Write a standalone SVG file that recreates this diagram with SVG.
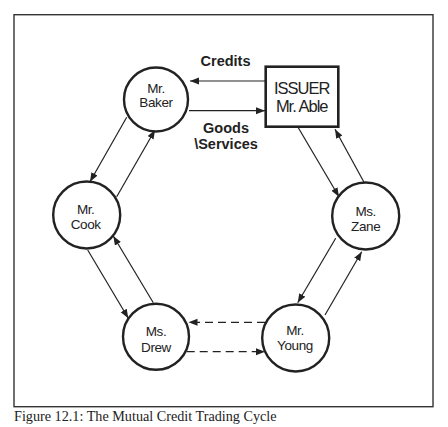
<svg xmlns="http://www.w3.org/2000/svg" width="448" height="427" viewBox="0 0 448 427">
<style>
.node{fill:#fff;stroke:#222;stroke-width:2.4}
.lbl{font-family:"Liberation Sans",Arial,sans-serif;font-size:13.5px;letter-spacing:-0.4px;fill:#222;text-anchor:middle}
.iss{font-family:"Liberation Sans",Arial,sans-serif;font-size:16.5px;letter-spacing:-1px;fill:#222;text-anchor:middle}
.edge{stroke:#222;stroke-width:1.2;fill:none;marker-end:url(#ah)}
.dash{stroke-dasharray:8 5}
.elbl{font-family:"Liberation Sans",Arial,sans-serif;font-size:14.5px;font-weight:bold;fill:#222;text-anchor:middle}
.cap{font-family:"Liberation Serif","Times New Roman",serif;font-size:14.2px;fill:#222}
</style>
<defs>
<marker id="ah" markerUnits="userSpaceOnUse" markerWidth="10" markerHeight="8" refX="9" refY="3.5" orient="auto">
<path d="M0,0 L9,3.5 L0,7 z" fill="#222"/>
</marker>
</defs>
<rect width="448" height="427" fill="#fff"/>
<rect x="14" y="14.7" width="419" height="392" fill="none" stroke="#333" stroke-width="1.4"/>
<text class="cap" x="14" y="420.5">Figure 12.1: The Mutual Credit Trading Cycle</text>

<g id="connectors">
<line class="edge" x1="265.7" y1="81" x2="190" y2="81"/>
<line class="edge" x1="189" y1="110.7" x2="265" y2="110.7"/>
<line class="edge" x1="126.7" y1="117.3" x2="90" y2="181.7"/>
<line class="edge" x1="116.7" y1="196.7" x2="155" y2="130"/>
<line class="edge" x1="87.7" y1="250" x2="128.3" y2="318.3"/>
<line class="edge" x1="153.3" y1="302.7" x2="113.3" y2="236"/>
<line class="edge dash" x1="265" y1="322.3" x2="188.5" y2="322.3"/>
<line class="edge dash" x1="186.7" y1="351.7" x2="265" y2="351.7"/>
<line class="edge" x1="335.7" y1="238.3" x2="297.7" y2="302.7"/>
<line class="edge" x1="325" y1="315" x2="361.7" y2="251.7"/>
<line class="edge" x1="298.3" y1="127.7" x2="339" y2="196.7"/>
<line class="edge" x1="364.3" y1="182.7" x2="335" y2="129.3"/>
<text class="elbl" x="225.5" y="65.7">Credits</text>
<text class="elbl" x="226" y="133">Goods</text>
<text class="elbl" x="226" y="148.5">\Services</text>
</g>

<g id="issuer">
<rect x="265.7" y="66.7" width="72.6" height="60" fill="#fff" stroke="#222" stroke-width="2.6"/>
<text class="iss" x="301.7" y="94.3">ISSUER</text>
<text class="iss" x="301.7" y="111.7">Mr. Able</text>
</g>
<g id="baker">
<circle class="node" cx="156" cy="99.5" r="32"/>
<text class="lbl" x="156" y="92.5">Mr.</text>
<text class="lbl" x="156" y="107">Baker</text>
</g>
<g id="cook">
<circle class="node" cx="86.7" cy="215" r="33.5"/>
<text class="lbl" x="85.7" y="214">Mr.</text>
<text class="lbl" x="85.7" y="229.3">Cook</text>
</g>
<g id="drew">
<circle class="node" cx="156" cy="336.7" r="33"/>
<text class="lbl" x="156" y="336">Ms.</text>
<text class="lbl" x="156" y="351.7">Drew</text>
</g>
<g id="young">
<circle class="node" cx="295.7" cy="338" r="33.5"/>
<text class="lbl" x="295" y="334.7">Mr.</text>
<text class="lbl" x="295" y="350">Young</text>
</g>
<g id="zane">
<circle class="node" cx="365.7" cy="216" r="33.5"/>
<text class="lbl" x="365.7" y="215.7">Ms.</text>
<text class="lbl" x="365.7" y="231">Zane</text>
</g>
</svg>
